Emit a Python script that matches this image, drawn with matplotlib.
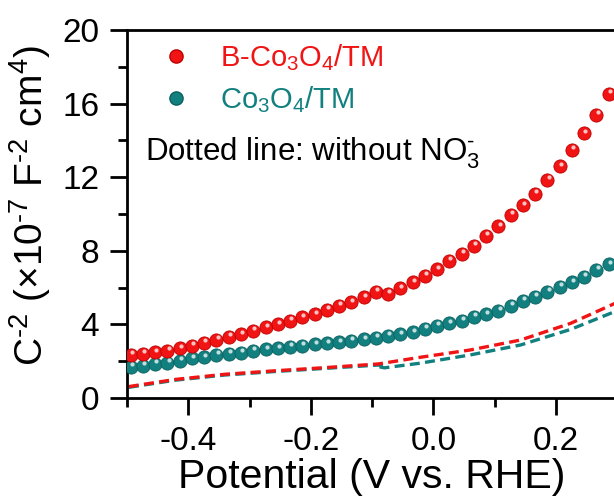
import numpy as np
import matplotlib
matplotlib.use('Agg')
import matplotlib.pyplot as plt
from matplotlib.lines import Line2D
from matplotlib.transforms import offset_copy

plt.rcParams['font.family'] = ['Liberation Sans', 'DejaVu Sans']
plt.rcParams['mathtext.fontset'] = 'custom'
plt.rcParams['mathtext.rm'] = 'Liberation Sans'
plt.rcParams['mathtext.default'] = 'regular'

# Mott-Schottky data, potential step 0.02 V
potential = -0.494 + 0.02 * np.arange(41)
c2_bco = [2.34, 2.39, 2.48, 2.55, 2.70, 2.83, 3.01, 3.15, 3.33, 3.46,
          3.64, 3.84, 4.00, 4.20, 4.38, 4.55, 4.78, 5.02, 5.20, 5.47,
          5.78, 5.65, 5.96, 6.29, 6.63, 6.99, 7.46, 7.83, 8.28, 8.80,
          9.33, 9.97, 10.47, 11.09, 11.85, 12.60, 13.50, 14.38, 15.40, 16.54,
          17.80]
c2_co = [1.70, 1.76, 1.85, 1.92, 2.01, 2.16, 2.21, 2.34, 2.39, 2.46,
         2.55, 2.64, 2.70, 2.79, 2.84, 2.92, 2.97, 3.03, 3.10, 3.19,
         3.28, 3.37, 3.46, 3.57, 3.75, 3.91, 4.06, 4.20, 4.42, 4.55,
         4.74, 5.00, 5.27, 5.51, 5.78, 6.05, 6.29, 6.59, 6.96, 7.27,
         7.60]

# without NO3- (dashed)
bco_blank_v = [-0.497, -0.421, -0.34, -0.258, -0.177, -0.09, -0.022, 0.06, 0.142, 0.224, 0.30]
bco_blank_c = [0.62, 1.01, 1.29, 1.48, 1.65, 1.85, 2.21, 2.61, 3.15, 4.06, 5.20]
co_blank_v = [-0.497, -0.421, -0.34, -0.258, -0.177, -0.085, -0.092, -0.08,
              -0.022, 0.06, 0.142, 0.224, 0.30]
co_blank_c = [0.58, 0.97, 1.25, 1.44, 1.61, 1.80, 1.72, 1.64,
              1.89, 2.34, 2.88, 3.73, 4.75]

red = '#f01414'
teal = '#138080'
hy = '\u2010'

fig = plt.figure(figsize=(6.14, 5.0), dpi=100)
ax = fig.add_axes([127 / 614, 0.204, 490.3 / 614, 0.736])

ax.plot(co_blank_v, co_blank_c, ls=(0, (3, 1.6)), lw=2.4, color=teal, zorder=2)
ax.plot(bco_blank_v, bco_blank_c, ls=(0, (3, 1.6)), lw=2.4, color=red, zorder=2)


def balls(x, y, color, edge):
    ax.plot(x, y, 'o', ms=9.5, mfc=color, mec=edge, mew=0.6, zorder=3)
    # specular highlight to give a shaded look
    tr = offset_copy(ax.transData, fig=fig, x=0.8, y=1.9, units='points')
    ax.plot(x, y, 'o', ms=3, mfc='white', mec='none', alpha=0.75,
            transform=tr, zorder=4)


balls(potential, c2_co, teal, '#0b5f5f')
balls(potential, c2_bco, red, '#c00000')

ax.set_xlim(-0.5, 0.3)
ax.set_ylim(0, 20)
ax.set_xticks([-0.4, -0.2, 0.0, 0.2])
ax.set_xticks([-0.5, -0.3, -0.1, 0.1, 0.3], minor=True)
ax.set_yticks(range(0, 21, 4))
ax.set_yticks(range(2, 20, 4), minor=True)
ax.set_xticklabels(['-0.4', '-0.2', '0.0', '0.2'])
ax.tick_params(which='major', direction='out', length=12, width=2, labelsize=24)
ax.tick_params(axis='x', which='major', pad=8)
ax.tick_params(axis='y', which='major', pad=8)
ax.tick_params(which='minor', direction='out', length=6.5, width=2)
for s in ax.spines.values():
    s.set_linewidth(2)

ax.set_xlabel('Potential (V vs. RHE)', fontsize=29.5, labelpad=1)
ax.set_ylabel(f'C$^{{{hy}2}}$ ($\\times$10$^{{{hy}7}}$ F$^{{{hy}2}}$ cm$^{{4}}$)',
              fontsize=28)
ax.yaxis.set_label_coords(-0.15, 0.524)

handles = [Line2D([], [], ls='none', marker='o', ms=9.5, mfc=red, mec='#c00000'),
           Line2D([], [], ls='none', marker='o', ms=9.5, mfc=teal, mec='#0b5f5f')]
ax.legend(handles, ['B-Co$_3$O$_4$/TM', 'Co$_3$O$_4$/TM'], loc='upper left',
          bbox_to_anchor=(0.07, 0.968), frameon=False, fontsize=21,
          labelcolor=[red, teal], handlelength=1.0, handletextpad=1.0,
          labelspacing=0.4, borderpad=0, borderaxespad=0)
ax.text(0.037, 0.665, f'Dotted line: without NO$_3^{{{hy}}}$', transform=ax.transAxes,
        fontsize=22.5, va='center')

fig.savefig('out.png', dpi=100)
